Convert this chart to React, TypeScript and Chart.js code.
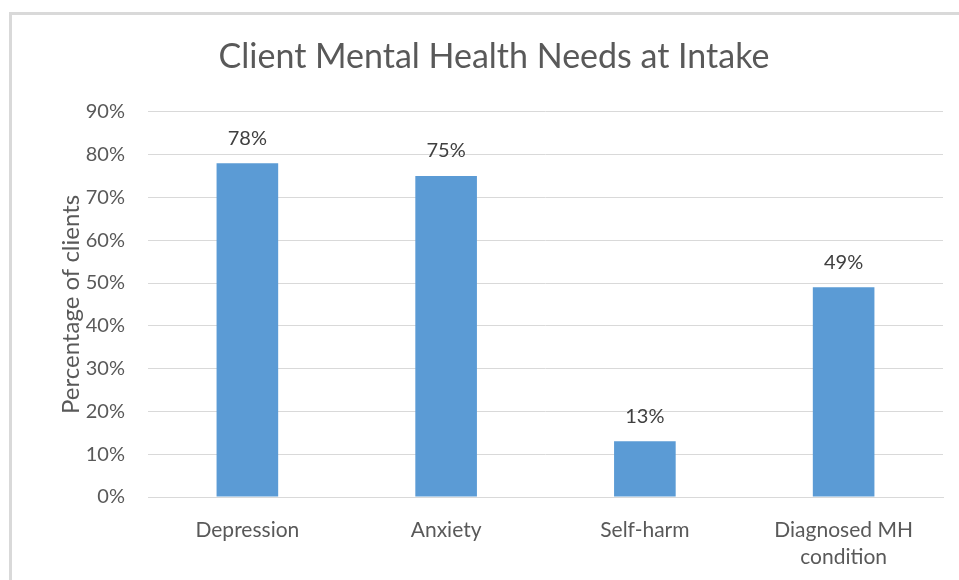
import React, { useEffect, useRef } from "react";
import { Chart, registerables } from "chart.js";

Chart.register(...registerables);

const categories: (string | string[])[] = ["Depression", "Anxiety", "Self-harm", ["Diagnosed MH", "condition"]];
const percentages = [78, 75, 13, 49];
const yTicks = [0, 10, 20, 30, 40, 50, 60, 70, 80, 90];
const chartTitle = "Client Mental Health Needs at Intake";
const yAxisTitle = "Percentage of clients";

const FONT = "Lato, 'Open Sans', sans-serif";

const frame = {
  id: "frame",
  beforeDraw(chart: any) {
    const { ctx, width, height } = chart;
    ctx.save();
    ctx.fillStyle = "#ffffff";
    ctx.fillRect(0, 0, width, height);
    ctx.strokeStyle = "#d9d9d9";
    ctx.lineWidth = 3;
    ctx.beginPath();
    ctx.moveTo(10.5, height);
    ctx.lineTo(10.5, 13.5);
    ctx.lineTo(width, 13.5);
    ctx.stroke();
    ctx.restore();
  },
};

const valueLabels = {
  id: "valueLabels",
  afterDatasetsDraw(chart: any) {
    const { ctx } = chart;
    const meta = chart.getDatasetMeta(0);
    ctx.save();
    ctx.font = `20px ${FONT}`;
    ctx.fillStyle = "#404040";
    ctx.textAlign = "center";
    ctx.textBaseline = "middle";
    meta.data.forEach((bar: any, i: number) => {
      ctx.fillText(`${percentages[i]}%`, bar.x, bar.y - 25);
    });
    ctx.restore();
  },
};

export default function App() {
  const ref = useRef<HTMLCanvasElement>(null);
  useEffect(() => {
    if (!ref.current) return;
    const chart = new Chart(ref.current, {
      type: "bar",
      data: {
        labels: categories,
        datasets: [
          {
            data: percentages,
            backgroundColor: "#5B9BD5",
            borderWidth: 0,
            categoryPercentage: 1,
            barPercentage: 0.31,
          },
        ],
      },
      options: {
        animation: false,
        responsive: false,
        layout: { padding: { left: 45, right: 16, top: 0, bottom: 0 } },
        plugins: {
          legend: { display: false },
          tooltip: { enabled: false },
          title: {
            display: true,
            text: chartTitle,
            color: "#595959",
            font: { family: FONT, size: 34, weight: "normal" },
            padding: { top: 37, bottom: 34 },
          },
        },
        scales: {
          x: {
            grid: { display: false },
            border: { display: true, color: "#d9d9d9", width: 1 },
            ticks: {
              color: "#595959",
              font: { family: FONT, size: 21, lineHeight: 1.29 },
              padding: 12,
              maxRotation: 0,
              autoSkip: false,
            },
            afterFit(scale: any) {
              scale.height = 83;
            },
          },
          y: {
            min: 0,
            max: 90,
            afterBuildTicks(scale: any) {
              scale.ticks = yTicks.map((v) => ({ value: v }));
            },
            grid: { color: "#d9d9d9", drawTicks: false },
            border: { display: false },
            ticks: {
              color: "#595959",
              font: { family: FONT, size: 20 },
              padding: 23,
              callback: (v: any) => `${v}%`,
            },
            title: {
              display: true,
              text: yAxisTitle,
              color: "#595959",
              font: { family: FONT, size: 24 },
              padding: { top: 12, bottom: 0 },
            },
            afterFit(scale: any) {
              scale.width = 103;
            },
          },
        },
      },
      plugins: [frame, valueLabels],
    });
    return () => chart.destroy();
  }, []);
  return (
    <div style={{ position: "absolute", left: 0, top: 0, width: 959, height: 580 }}>
      <canvas ref={ref} width={959} height={580} style={{ display: "block" }} />
    </div>
  );
}
